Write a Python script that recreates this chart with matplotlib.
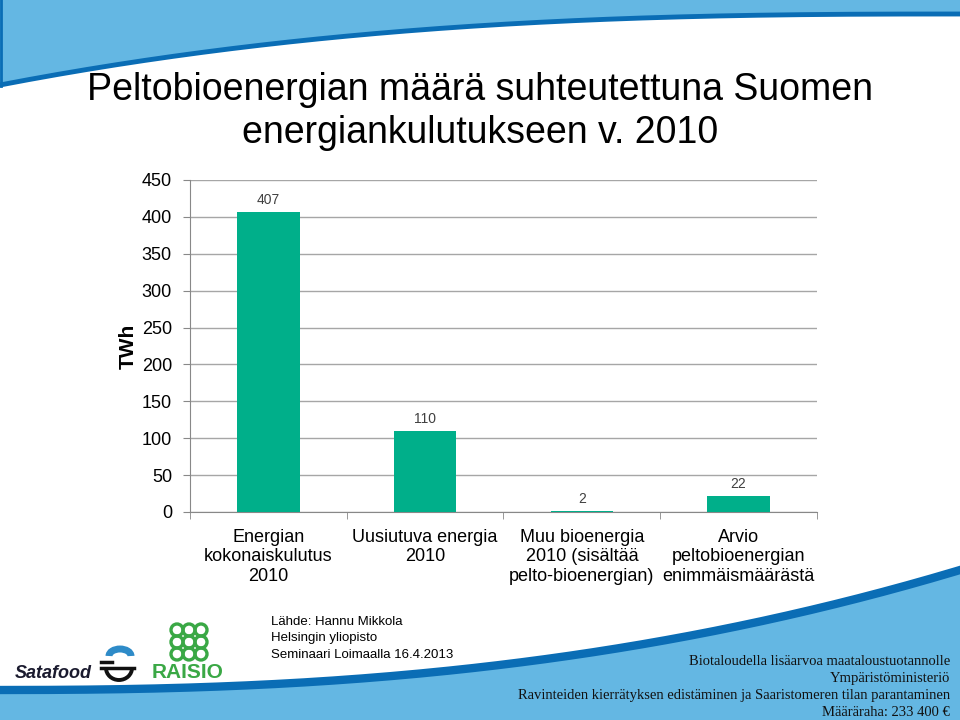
import numpy as np
import matplotlib.pyplot as plt
from matplotlib.patches import Circle, Arc

# ─── Data ────────────────────────────────────────────────────────────
categories = ['Energian\nkokonaiskulutus\n2010',
              'Uusiutuva energia\n2010',
              'Muu bioenergia\n2010 (sisältää\npelto-bioenergian)',
              'Arvio\npeltobioenergian\nenimmäismäärästä']
values = [407, 110, 2, 22]
yticks = [0, 50, 100, 150, 200, 250, 300, 350, 400, 450]

title_lines = ['Peltobioenergian määrä suhteutettuna Suomen',
               'energiankulutukseen v. 2010']
source_lines = ['Lähde: Hannu Mikkola', 'Helsingin yliopisto',
                'Seminaari Loimaalla 16.4.2013']
footer_lines = ['Biotaloudella lisäarvoa maataloustuotannolle',
                'Ympäristöministeriö',
                'Ravinteiden kierrätyksen edistäminen ja Saaristomeren tilan parantaminen',
                'Määräraha: 233 400 €']

plt.rcParams['font.family'] = ['Liberation Sans', 'DejaVu Sans']

W, H = 960, 720
fig = plt.figure(figsize=(9.6, 7.2), dpi=100)

# ─── Background waves (pixel coordinates) ────────────────────────────
bg = fig.add_axes([0, 0, 1, 1])
bg.set_xlim(0, W)
bg.set_ylim(H, 0)
bg.axis('off')

x = np.linspace(0, W, 200)
top_edge = 14 + 71 * (1 - x / W) ** 2.6
bg.fill_between(x, 0, top_edge, color='#64B7E3', lw=0)
bg.plot(x, top_edge, color='#0A6DB5', lw=3.5)
bg.plot([1, 1], [0, 86], color='#0A6DB5', lw=2)

bot_edge = 690 - 120 * (x / W) ** 2.4
bg.fill_between(x, bot_edge, H, color='#64B7E3', lw=0)
bg.plot(x, bot_edge, color='#0A6DB5', lw=6)

# ─── Title ───────────────────────────────────────────────────────────
for i, line in enumerate(title_lines):
    fig.text(0.5, 1 - (90 + 43 * i) / H, line, ha='center', va='center',
             fontsize=27, color='black')

# ─── Bar chart ───────────────────────────────────────────────────────
ax = fig.add_axes([190 / W, 1 - 512 / H, 627 / W, 332 / H])
pos = np.arange(len(values))
ax.bar(pos, values, width=0.4, color='#00AF8A', zorder=3)
for p, v in zip(pos, values):
    ax.text(p, v + 6, str(v), ha='center', va='bottom', fontsize=10,
            color='#404040')

ax.set_xlim(-0.5, len(values) - 0.5)
ax.set_ylim(0, 450)
ax.set_yticks(yticks)
ax.set_yticklabels([str(t) for t in yticks], fontsize=13)
ax.set_xticks(pos)
ax.set_xticklabels(categories, fontsize=13, linespacing=1.2)
ax.set_xticks(np.arange(len(values) + 1) - 0.5, minor=True)
ax.tick_params(axis='x', which='major', length=0, pad=12)
ax.tick_params(axis='x', which='minor', length=5, color='#888888', direction='out')
ax.tick_params(axis='y', length=5, color='#888888', pad=8)
ax.grid(axis='y', color='#A6A6A6', lw=1, zorder=0)
for s in ['top', 'right']:
    ax.spines[s].set_visible(False)
for s in ['left', 'bottom']:
    ax.spines[s].set_color('#888888')
ax.set_ylabel('TWh', fontsize=15, fontweight='bold', labelpad=3)

# ─── Source text ─────────────────────────────────────────────────────
for i, line in enumerate(source_lines):
    fig.text(271 / W, 1 - (622 + 16.5 * i) / H, line, ha='left', va='center',
             fontsize=9.5, color='black')

# ─── Footer text ─────────────────────────────────────────────────────
for i, line in enumerate(footer_lines):
    fig.text(950 / W, 1 - (665 + 17 * i) / H, line, ha='right', va='baseline',
             fontsize=10.5, family=['Liberation Serif', 'DejaVu Serif'],
             color='#111111')

# ─── Logos (approximate) ─────────────────────────────────────────────
fig.text(15 / W, 1 - 673 / H, 'Satafood', ha='left', va='center',
         fontsize=13, fontweight='bold', style='italic', color='#1A1A2E')
bg.add_patch(Arc((119, 668), 26, 24, theta1=0, theta2=180, color='#111111', lw=2.8))
bg.plot([101, 134], [668, 668], color='#111111', lw=2.5)
bg.plot([101, 112], [662, 662], color='#111111', lw=2.5)
bg.add_patch(Arc((120, 656), 22, 14, theta1=180, theta2=360, color='#2E8BC8', lw=5))
fig.text(188 / W, 1 - 673 / H, 'RAISIO', ha='center', va='center',
         fontsize=15, fontweight='bold', color='#3AA845')
for cx in (177, 189, 201):
    for cy in (630, 642, 654):
        bg.add_patch(Circle((cx, cy), 6, fill=False, ec='#3AA845', lw=2.4))

plt.savefig('out.png', dpi=100)
